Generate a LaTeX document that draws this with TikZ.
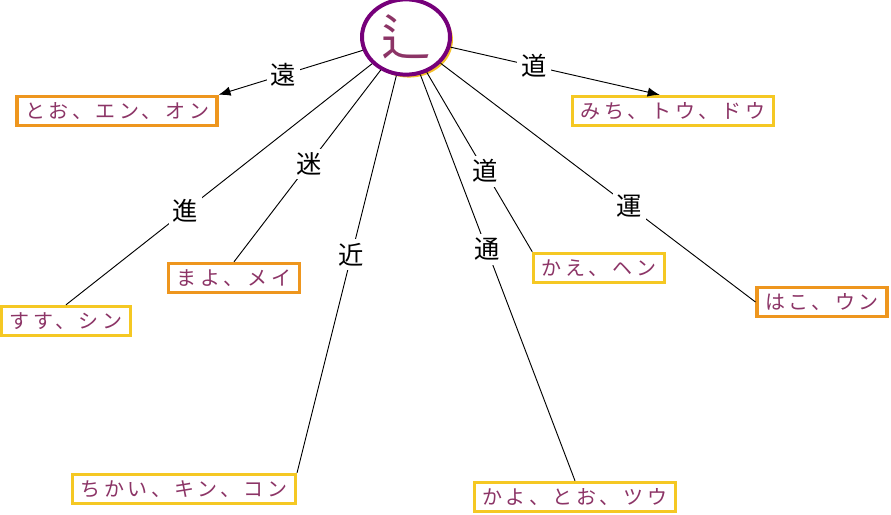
\documentclass[tikz,border=0pt]{standalone}
\usepackage{fontspec}
\usepackage{xcolor}
\usepackage{tikz}
\usetikzlibrary{shapes.geometric,arrows.meta,shadows}
\newfontfamily\jpfont{Noto Sans CJK JP}
\newfontfamily\kanafont[LetterSpace=18]{Noto Sans CJK JP}
\definecolor{radpurple}{RGB}{118,0,122}
\definecolor{radgold}{RGB}{245,192,40}
\definecolor{readcol}{RGB}{140,52,102}
\definecolor{boxorange}{RGB}{238,150,30}
\definecolor{boxyellow}{RGB}{245,200,35}

\begin{document}
\begin{tikzpicture}[x=0.75pt, y=-0.75pt,
  radical/.style={ellipse, draw=radpurple, line width=3pt, fill=white, minimum width=66pt, minimum height=49pt, text=readcol, font=\jpfont\fontsize{37}{37}\selectfont, drop shadow={fill=radgold, opacity=1, shadow xshift=2.2pt, shadow yshift=-2.2pt}},
  box/.style={draw, line width=2.3pt, fill=white, text=readcol, inner xsep=6pt, minimum height=22pt, font=\kanafont\fontsize{15}{15}\selectfont},
  obox/.style={box, draw=boxorange},
  ybox/.style={box, draw=boxyellow},
  lbl/.style={fill=white, inner sep=3pt, text=black, font=\jpfont\fontsize{19}{19}\selectfont},
  edge/.style={line width=0.7pt},
  arr/.style={edge, -{Latex[length=9pt, width=7pt]}}]
\useasboundingbox (0,0) rectangle (891,514);

\node[radical] (rad) at (406,37) {辶};

% readings
\node[obox] (toh) at (117,111) {とお、エン、オン};
\node[ybox] (michi) at (673,111) {みち、トウ、ドウ};
\node[ybox] (susu) at (66,321) {すす、シン};
\node[obox] (mayo) at (234,278) {まよ、メイ};
\node[ybox] (chika) at (184,489) {ちかい、キン、コン};
\node[ybox] (kayo) at (575,497) {かよ、とお、ツウ};
\node[ybox] (kae) at (599,268) {かえ、ヘン};
\node[obox] (hako) at (822,302) {はこ、ウン};

% kanji on the connectors
\draw[arr] (rad) -- node[lbl, pos=0.55] {遠} (toh.north east);
\draw[arr] (rad) -- node[lbl, pos=0.40] {道} ([xshift=-10pt]michi.north);
\draw[edge] (rad) -- node[lbl, pos=0.61] {進} (susu.north);
\draw[edge] (rad) -- node[lbl, pos=0.49] {迷} (mayo.north);
\draw[edge] (rad) -- node[lbl, pos=0.45] {近} (chika.north east);
\draw[edge] (rad) -- node[lbl, pos=0.43] {通} (kayo.north);
\draw[edge] (rad) -- node[lbl, pos=0.55] {道} (kae.north west);
\draw[edge] (rad) -- node[lbl, pos=0.60] {運} (hako.west);
\end{tikzpicture}
\end{document}
